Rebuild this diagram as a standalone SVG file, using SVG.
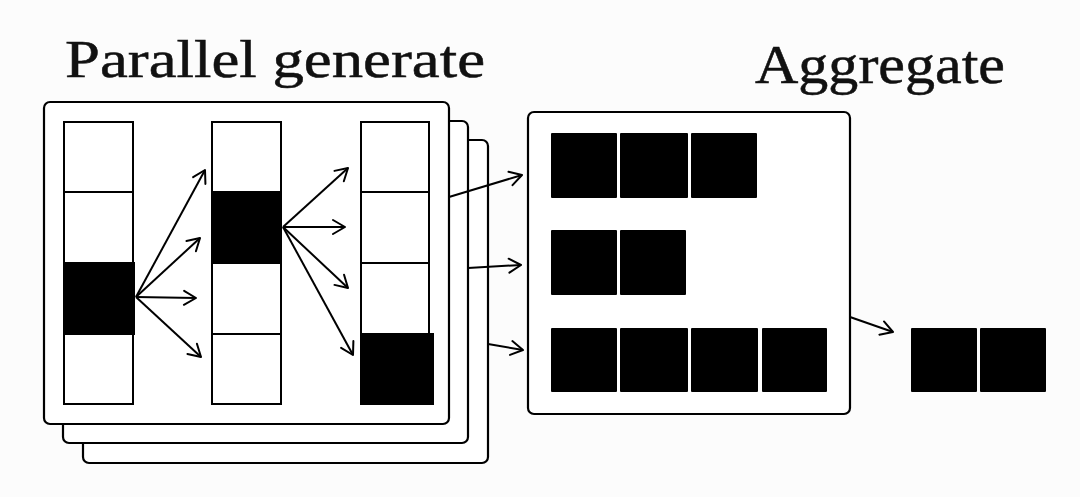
<svg xmlns="http://www.w3.org/2000/svg" width="1080" height="497" viewBox="0 0 1080 497">
<defs>
<style>
.frame{fill:#fff;stroke:#000;stroke-width:2.2}
.cell{fill:#fff;stroke:#000;stroke-width:2}
.blk{fill:#000;stroke:none}
.ln{fill:none;stroke:#000;stroke-width:2}
.lbl{font-family:"Liberation Serif","DejaVu Serif",serif;fill:#111;stroke:#111;stroke-width:0.5}
</style>
<marker id="ah" markerUnits="userSpaceOnUse" markerWidth="18" markerHeight="18" viewBox="0 0 18 18" refX="16" refY="9" orient="auto">
<path d="M4,2 L16,9 L4,16" fill="none" stroke="#000" stroke-width="2" stroke-linecap="round" stroke-linejoin="round"/>
</marker>
</defs>
<rect width="1080" height="497" fill="#fcfcfc"/>
<text class="lbl" x="65" y="77" font-size="52" textLength="420" lengthAdjust="spacingAndGlyphs">Parallel generate</text>
<text class="lbl" x="755" y="83" font-size="54" textLength="250" lengthAdjust="spacingAndGlyphs">Aggregate</text>

<g id="stack">
<rect class="frame" x="83" y="140" width="405" height="323" rx="6"/>
<rect class="frame" x="63" y="121" width="405" height="322" rx="6"/>
<rect class="frame" x="44" y="102" width="405" height="322" rx="6"/>
</g>
<g id="col1">
<rect class="cell" x="64" y="122" width="69" height="282"/>
<line class="ln" x1="64" y1="192" x2="133" y2="192"/>
<line class="ln" x1="64" y1="334" x2="133" y2="334"/>
<rect class="blk" x="63" y="262" width="72" height="73"/>
</g>
<g id="col2">
<rect class="cell" x="212" y="122" width="69" height="282"/>
<line class="ln" x1="212" y1="263" x2="281" y2="263"/>
<line class="ln" x1="212" y1="334" x2="281" y2="334"/>
<rect class="blk" x="211" y="191" width="71" height="73"/>
</g>
<g id="col3">
<rect class="cell" x="361" y="122" width="68" height="282"/>
<line class="ln" x1="361" y1="192" x2="429" y2="192"/>
<line class="ln" x1="361" y1="263" x2="429" y2="263"/>
<rect class="blk" x="360" y="333" width="74" height="72"/>
</g>
<g id="aggbox">
<rect class="frame" x="528" y="112" width="322" height="302" rx="6"/>
<rect class="blk" x="551" y="133" width="66" height="65" rx="1"/>
<rect class="blk" x="620" y="133" width="68" height="65" rx="1"/>
<rect class="blk" x="691" y="133" width="66" height="65" rx="1"/>
<rect class="blk" x="551" y="230" width="66" height="65" rx="1"/>
<rect class="blk" x="620" y="230" width="66" height="65" rx="1"/>
<rect class="blk" x="551" y="328" width="66" height="64" rx="1"/>
<rect class="blk" x="620" y="328" width="68" height="64" rx="1"/>
<rect class="blk" x="691" y="328" width="67" height="64" rx="1"/>
<rect class="blk" x="762" y="328" width="65" height="64" rx="1"/>
</g>
<g id="result">
<rect class="blk" x="911" y="328" width="66" height="64" rx="1"/>
<rect class="blk" x="980" y="328" width="66" height="64" rx="1"/>
</g>
<g id="connectors" class="ln">
<line x1="136" y1="297" x2="205" y2="170" marker-end="url(#ah)"/>
<line x1="136" y1="297" x2="200" y2="238" marker-end="url(#ah)"/>
<line x1="136" y1="297" x2="196" y2="298" marker-end="url(#ah)"/>
<line x1="136" y1="297" x2="201" y2="357" marker-end="url(#ah)"/>
<line x1="283" y1="227" x2="348" y2="168" marker-end="url(#ah)"/>
<line x1="283" y1="227" x2="345" y2="227" marker-end="url(#ah)"/>
<line x1="283" y1="227" x2="348" y2="288" marker-end="url(#ah)"/>
<line x1="283" y1="227" x2="353" y2="355" marker-end="url(#ah)"/>
<line x1="449" y1="197" x2="522" y2="175" marker-end="url(#ah)"/>
<line x1="468" y1="268" x2="521" y2="265" marker-end="url(#ah)"/>
<line x1="488" y1="344" x2="523" y2="350" marker-end="url(#ah)"/>
<line x1="850" y1="317" x2="893" y2="332" marker-end="url(#ah)"/>
</g>
</svg>
